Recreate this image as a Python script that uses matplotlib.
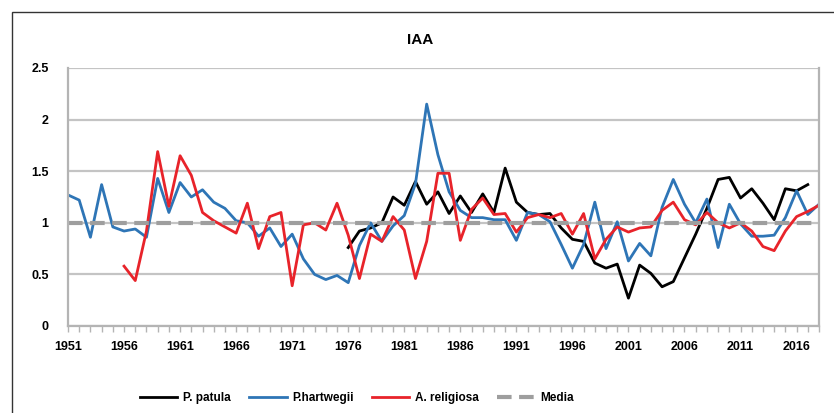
import numpy as np
import matplotlib
matplotlib.use("Agg")
import matplotlib.pyplot as plt
from matplotlib.patches import Rectangle

plt.rcParams['font.family'] = ['Liberation Sans', 'DejaVu Sans']

years = list(range(1951, 2019))

hartwegii = [1.27, 1.22, 0.86, 1.37, 0.96, 0.92, 0.94, 0.86, 1.43, 1.10,
             1.39, 1.25, 1.32, 1.20, 1.14, 1.02, 1.00, 0.87, 0.95, 0.77,
             0.89, 0.65, 0.50, 0.45, 0.49, 0.42, 0.78, 1.00, 0.82, 0.97,
             1.07, 1.38, 2.15, 1.66, 1.30, 1.12, 1.05, 1.05, 1.03, 1.03,
             0.83, 1.10, 1.08, 1.01, 0.79, 0.56, 0.79, 1.20, 0.75, 1.01,
             0.63, 0.80, 0.68, 1.15, 1.42, 1.18, 1.00, 1.23, 0.76, 1.18,
             0.99, 0.87, 0.87, 0.88, 1.05, 1.31, 1.08, 1.18]

religiosa = [None] * 5 + [
             0.58, 0.44, 0.92, 1.69, 1.16, 1.65, 1.46, 1.10, 1.02, 0.96,
             0.90, 1.19, 0.75, 1.06, 1.10, 0.39, 0.98, 1.00, 0.93, 1.19,
             0.88, 0.46, 0.89, 0.82, 1.06, 0.93, 0.46, 0.82, 1.48, 1.48,
             0.83, 1.13, 1.24, 1.08, 1.09, 0.91, 1.05, 1.08, 1.05, 1.09,
             0.89, 1.09, 0.65, 0.84, 0.96, 0.91, 0.95, 0.96, 1.12, 1.20,
             1.03, 0.98, 1.10, 1.00, 0.95, 1.00, 0.92, 0.77, 0.73, 0.92,
             1.06, 1.11, 1.17]

patula = [None] * 25 + [
          0.76, 0.92, 0.95, 1.00, 1.25, 1.17, 1.40, 1.18, 1.30, 1.09,
          1.26, 1.10, 1.28, 1.10, 1.53, 1.20, 1.10, 1.08, 1.09, 0.95,
          0.84, 0.82, 0.61, 0.56, 0.60, 0.27, 0.59, 0.51, 0.38, 0.43,
          0.66, 0.89, 1.14, 1.42, 1.44, 1.24, 1.33, 1.19, 1.03, 1.33,
          1.31, 1.37, None]

media = [1.0] * len(years)

def arr(v):
    return np.array([np.nan if x is None else x for x in v], dtype=float)

fig = plt.figure(figsize=(8.34, 4.13), dpi=100)
ax = fig.add_axes([68/834, 1-326/413, (819-68)/834, (326-68)/413])

ax.plot(years, arr(patula), color='black', lw=2.0, label='P. patula')
ax.plot(years, arr(hartwegii), color='#2e75b6', lw=2.0, label='P.hartwegii')
ax.plot(years, arr(religiosa), color='#e8232a', lw=2.0, label='A. religiosa')
ax.plot(years, media, color='#9e9e9e', lw=3.0, dashes=(3.5, 1.8), label='Media')

ax.set_xlim(1951, 2018)
ax.set_ylim(0, 2.5)
ax.set_yticks([0, 0.5, 1, 1.5, 2, 2.5])
ax.set_yticklabels(['0', '0.5', '1', '1.5', '2', '2.5'])
ax.set_xticks(years)
ax.set_xticklabels([str(y) if (y - 1951) % 5 == 0 else '' for y in years])

ax.grid(axis='y', color='#c4c4c4', lw=1.6)
ax.set_axisbelow(True)
for s in ['left', 'bottom', 'right']:
    ax.spines[s].set_color('#b4b4b4')
    ax.spines[s].set_linewidth(1.6)
ax.spines['top'].set_visible(False)
ax.tick_params(axis='y', length=0, pad=14, labelsize=9)
ax.tick_params(axis='x', length=4, width=1, color='#b4b4b4', pad=7, labelsize=9)
for t in ax.get_xticklabels() + ax.get_yticklabels():
    t.set_fontweight('bold')

fig.text(0.504, 1-40/413, 'IAA', ha='center', va='center',
         fontsize=11, fontweight='bold')

leg = fig.legend(loc='center', bbox_to_anchor=(0.428, 1-398/413), ncol=4,
                 frameon=False, handlelength=3.2, columnspacing=1.5,
                 handletextpad=0.5, prop={'weight': 'bold', 'size': 8.5})

fig.patches.append(Rectangle((12/834, -0.1), 1.2, 1.1 - 12/413,
                             transform=fig.transFigure, fill=False,
                             ec='#333333', lw=1.0))

fig.savefig('out.png', dpi=100)
